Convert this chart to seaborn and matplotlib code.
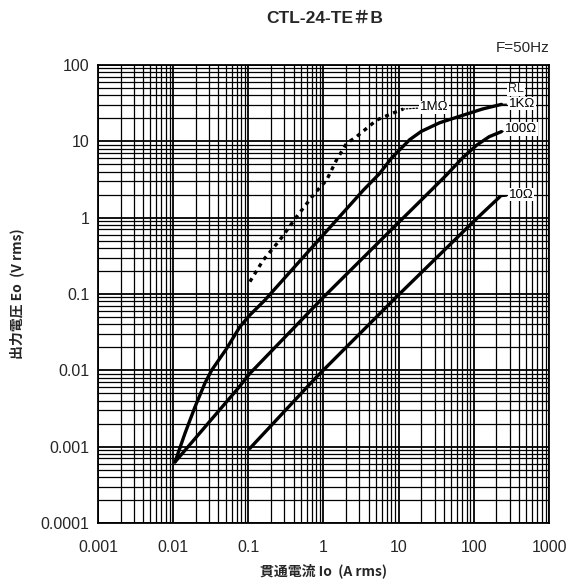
import matplotlib
matplotlib.use("Agg")
import matplotlib.pyplot as plt
import seaborn as sns
import pandas as pd

# values (log-log curves, A rms -> V rms)
x_1m = [0.105, 0.158, 0.263, 0.44, 0.77, 1.1, 1.49, 2.03, 2.75, 5.1, 8.0, 11.5]
y_1m = [0.145, 0.278, 0.51, 1.03, 2.1, 3.1, 5.7, 9.4, 11.5, 19.0, 23.0, 26.5]

x_1k = [0.0106, 0.0144, 0.0195, 0.0265, 0.0325, 0.051, 0.077, 0.105, 0.166,
        0.36, 0.97, 3.4, 5.6, 8.0, 10.4, 14, 20, 35, 72, 130, 233]
y_1k = [0.00063, 0.0015, 0.0033, 0.0068, 0.01, 0.019, 0.037, 0.053, 0.083,
        0.195, 0.58, 2.3, 3.8, 6.0, 7.8, 10.5, 13.5, 17.5, 22.0, 26.5, 30.5]

x_100 = [0.0106, 0.073, 0.105, 0.36, 0.99, 10.4, 20, 43, 70, 109, 160, 233]
y_100 = [0.00063, 0.0058, 0.0091, 0.032, 0.09, 0.9, 1.7, 3.6, 6.0, 8.9, 11.5, 13.4]

x_10 = [0.105, 0.81, 9.4, 98, 222]
y_10 = [0.00095, 0.0082, 0.092, 0.88, 1.88]

x_ticks = [0.001, 0.01, 0.1, 1, 10, 100, 1000]
x_labels = ["0.001", "0.01", "0.1", "1", "10", "100", "1000"]
y_ticks = [0.0001, 0.001, 0.01, 0.1, 1, 10, 100]
y_labels = ["0.0001", "0.001", "0.01", "0.1", "1", "10", "100"]

sns.set_style("white")
plt.rcParams["font.family"] = ["Liberation Sans", "Noto Sans CJK JP", "DejaVu Sans"]
cjk = ["Noto Sans CJK JP", "DejaVu Sans"]

fig = plt.figure(figsize=(5.83, 5.84), dpi=100)
ax = fig.add_axes([0.168, 0.1045, 0.7737, 0.7842])
ax.set_xscale("log")
ax.set_yscale("log")
ax.set_xlim(0.001, 1000)
ax.set_ylim(0.0001, 100)

ax.grid(which="major", color="black", lw=1.3)
ax.grid(which="minor", color="black", lw=0.9)
ax.set_axisbelow(True)

curves = [
    ("1MΩ", x_1m, y_1m, (0, (1.2, 1.4))),
    ("1KΩ", x_1k, y_1k, "-"),
    ("100Ω", x_100, y_100, "-"),
    ("10Ω", x_10, y_10, "-"),
]
for name, xs, ys, ls in curves:
    df = pd.DataFrame({"x": xs, "y": ys})
    sns.lineplot(data=df, x="x", y="y", ax=ax, color="black", lw=2.4,
                 linestyle=ls, sort=False, estimator=None)

# curve labels with short leader lines from the curve end
label_pos = {"1MΩ": (19, 28), "1KΩ": (290, 31), "100Ω": (262, 14.5), "10Ω": (290, 2.0)}
for name, xs, ys, ls in curves:
    lx, ly = label_pos[name]
    ax.annotate(name, xy=(xs[-1], ys[-1]), xytext=(lx, ly), textcoords="data",
                fontsize=9.5, va="center", ha="left", color="black",
                arrowprops=dict(arrowstyle="-", lw=0.9, color="black",
                                shrinkA=1, shrinkB=0, linestyle=ls),
                bbox=dict(boxstyle="square,pad=0.05", fc="white", ec="none"))
ax.text(285, 48, "RL", fontsize=9, va="center", ha="left",
        bbox=dict(boxstyle="square,pad=0.05", fc="white", ec="none"))

ax.set_xticks(x_ticks)
ax.set_xticklabels(x_labels)
ax.set_yticks(y_ticks)
ax.set_yticklabels(y_labels)
ax.tick_params(axis="x", which="both", length=0, pad=12, labelsize=11.5)
ax.tick_params(axis="y", which="both", length=0, pad=6, labelsize=11.5)
ax.tick_params(which="minor", labelbottom=False, labelleft=False)
for sp in ax.spines.values():
    sp.set_color("black")
    sp.set_linewidth(1.3)

ax.set_xlabel("貫通電流 Io  (A rms)", family=cjk, fontsize=10, fontweight="bold",
              labelpad=6)
ax.set_ylabel("出力電圧 Eo  (V rms)", family=cjk, fontsize=10, fontweight="bold",
              labelpad=12)

fig.text(0.557, 0.969, "CTL-24-TE＃B", ha="center", va="center",
         fontsize=12.5, fontweight="bold")
fig.text(0.9417, 0.918, "F=50Hz", ha="right", va="center", fontsize=11)

fig.savefig("out.png", dpi=100)
